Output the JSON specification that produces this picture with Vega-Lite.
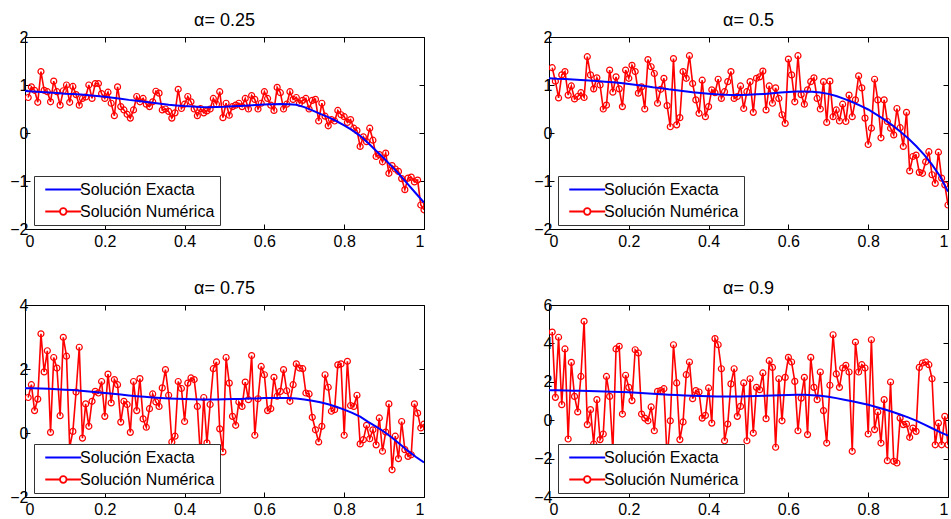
{
  "$schema": "https://vega.github.io/schema/vega-lite/v6.json",
  "background": "white",
  "padding": {"left": 9, "top": 11, "right": 0, "bottom": 0},
  "config": {
    "font": "Liberation Sans",
    "view": {"stroke": null},
    "axis": {"grid": false, "domainColor": "black", "domainWidth": 1, "tickColor": "black", "tickWidth": 1, "tickSize": -5, "labelColor": "black", "labelFont": "Liberation Sans", "labelFontSize": 16, "labelPadding": 9},
    "axisLeft": {"labelPadding": 2},
    "axisBottom": {"labelPadding": 9},
    "axisTop": {"labels": false},
    "axisRight": {"labels": false},
    "title": {"font": "Liberation Sans", "fontSize": 18, "fontWeight": "normal", "color": "black", "offset": -0.5, "anchor": "middle", "frame": "group"},
    "legend": {"orient": "none", "legendX": 9, "legendY": 139, "fillColor": "white", "strokeColor": "#333333", "padding": 5, "rowPadding": 5, "symbolSize": 225, "symbolStrokeWidth": 1.8, "labelFont": "Liberation Sans", "labelFontSize": 16, "labelColor": "black", "labelOffset": 24, "labelLimit": 400}
  },
  "datasets": {
    "num": [
      {"x":0.008,"a":0.74,"b":1.36,"c":1.11,"d":4.59},
      {"x":0.016,"a":0.96,"b":1.08,"c":1.51,"d":1.19},
      {"x":0.024,"a":0.89,"b":0.73,"c":0.70,"d":4.32},
      {"x":0.032,"a":0.64,"b":1.21,"c":1.06,"d":0.81},
      {"x":0.04,"a":1.28,"b":1.28,"c":3.10,"d":3.71},
      {"x":0.048,"a":0.89,"b":0.79,"c":1.91,"d":-0.98},
      {"x":0.056,"a":0.86,"b":0.98,"c":2.57,"d":3.01},
      {"x":0.064,"a":0.65,"b":0.71,"c":0.02,"d":1.24},
      {"x":0.072,"a":1.08,"b":0.76,"c":2.36,"d":0.43},
      {"x":0.08,"a":0.86,"b":0.84,"c":2.03,"d":2.28},
      {"x":0.088,"a":0.58,"b":0.74,"c":0.54,"d":5.15},
      {"x":0.096,"a":0.88,"b":1.59,"c":2.99,"d":-0.23},
      {"x":0.104,"a":1.0,"b":1.21,"c":2.40,"d":0.55},
      {"x":0.112,"a":0.64,"b":0.92,"c":-0.45,"d":-1.24},
      {"x":0.12,"a":0.97,"b":1.15,"c":0.05,"d":1.07},
      {"x":0.128,"a":0.80,"b":1.0,"c":1.28,"d":-1.01},
      {"x":0.136,"a":0.58,"b":0.50,"c":2.68,"d":-0.72},
      {"x":0.144,"a":0.72,"b":0.58,"c":-0.16,"d":2.28},
      {"x":0.152,"a":0.75,"b":1.31,"c":0.91,"d":1.24},
      {"x":0.16,"a":1.0,"b":0.85,"c":0.21,"d":-1.6},
      {"x":0.168,"a":0.72,"b":1.17,"c":0.99,"d":3.71},
      {"x":0.176,"a":1.03,"b":0.92,"c":1.30,"d":3.85},
      {"x":0.184,"a":1.03,"b":0.55,"c":1.25,"d":0.32},
      {"x":0.192,"a":0.82,"b":1.31,"c":1.61,"d":2.34},
      {"x":0.2,"a":0.72,"b":1.14,"c":0.52,"d":1.71},
      {"x":0.208,"a":0.85,"b":1.41,"c":1.84,"d":1.02},
      {"x":0.216,"a":0.62,"b":1.28,"c":0.94,"d":3.67},
      {"x":0.224,"a":0.36,"b":0.83,"c":1.67,"d":3.50},
      {"x":0.232,"a":0.96,"b":0.96,"c":1.51,"d":0.32},
      {"x":0.24,"a":0.55,"b":0.50,"c":0.34,"d":0.11},
      {"x":0.248,"a":0.48,"b":1.53,"c":0.99,"d":-0.03},
      {"x":0.256,"a":0.39,"b":1.38,"c":0.89,"d":0.69},
      {"x":0.264,"a":0.31,"b":1.24,"c":0.02,"d":-0.55},
      {"x":0.272,"a":0.48,"b":0.62,"c":1.61,"d":1.50},
      {"x":0.28,"a":0.76,"b":0.91,"c":0.70,"d":1.54},
      {"x":0.288,"a":0.65,"b":1.14,"c":1.70,"d":1.64},
      {"x":0.296,"a":0.72,"b":0.57,"c":0.44,"d":-2.0},
      {"x":0.304,"a":0.60,"b":0.13,"c":0.18,"d":-0.03},
      {"x":0.312,"a":0.55,"b":1.55,"c":0.76,"d":3.93},
      {"x":0.32,"a":0.65,"b":0.17,"c":1.22,"d":1.94},
      {"x":0.328,"a":0.87,"b":0.32,"c":0.97,"d":-1.01},
      {"x":0.336,"a":0.83,"b":1.28,"c":0.83,"d":-0.09},
      {"x":0.344,"a":0.48,"b":1.14,"c":1.41,"d":2.37},
      {"x":0.352,"a":0.50,"b":1.61,"c":1.98,"d":3.03},
      {"x":0.36,"a":0.45,"b":1.03,"c":1.18,"d":1.12},
      {"x":0.368,"a":0.31,"b":0.69,"c":-0.28,"d":1.54},
      {"x":0.376,"a":0.42,"b":0.41,"c":-0.10,"d":1.47},
      {"x":0.384,"a":0.91,"b":1.10,"c":1.61,"d":0.11},
      {"x":0.392,"a":0.51,"b":0.34,"c":1.39,"d":0.25},
      {"x":0.4,"a":0.60,"b":0.55,"c":0.36,"d":1.68},
      {"x":0.408,"a":0.76,"b":0.90,"c":1.56,"d":-0.15},
      {"x":0.416,"a":0.65,"b":0.84,"c":1.72,"d":4.25},
      {"x":0.424,"a":0.50,"b":1.12,"c":1.67,"d":3.93},
      {"x":0.432,"a":0.36,"b":0.72,"c":0.83,"d":2.68},
      {"x":0.44,"a":0.51,"b":0.86,"c":-0.80,"d":-1.07},
      {"x":0.448,"a":0.42,"b":1.07,"c":1.11,"d":-0.20},
      {"x":0.456,"a":0.46,"b":1.28,"c":-0.31,"d":1.89},
      {"x":0.464,"a":0.50,"b":0.72,"c":0.89,"d":2.68},
      {"x":0.472,"a":0.72,"b":0.76,"c":2.01,"d":0.20},
      {"x":0.48,"a":0.60,"b":0.98,"c":2.22,"d":0.72},
      {"x":0.488,"a":0.86,"b":0.51,"c":0.13,"d":1.94},
      {"x":0.496,"a":0.32,"b":0.86,"c":-0.59,"d":-1.07},
      {"x":0.504,"a":0.62,"b":1.07,"c":2.36,"d":2.16},
      {"x":0.512,"a":0.37,"b":0.43,"c":1.56,"d":-0.67},
      {"x":0.52,"a":0.55,"b":1.14,"c":0.52,"d":1.71},
      {"x":0.528,"a":0.58,"b":1.17,"c":0.24,"d":1.59},
      {"x":0.536,"a":0.62,"b":1.29,"c":0.97,"d":2.46},
      {"x":0.544,"a":0.55,"b":0.48,"c":0.83,"d":0.08},
      {"x":0.552,"a":0.72,"b":0.98,"c":1.59,"d":3.10},
      {"x":0.56,"a":0.50,"b":0.62,"c":1.04,"d":2.75},
      {"x":0.568,"a":0.78,"b":0.94,"c":2.42,"d":-1.41},
      {"x":0.576,"a":0.70,"b":0.72,"c":-0.07,"d":2.16},
      {"x":0.584,"a":0.50,"b":0.38,"c":1.07,"d":-0.03},
      {"x":0.592,"a":0.62,"b":0.20,"c":2.08,"d":2.23},
      {"x":0.6,"a":0.86,"b":1.54,"c":1.82,"d":3.27},
      {"x":0.608,"a":0.72,"b":1.21,"c":0.70,"d":3.03},
      {"x":0.616,"a":0.58,"b":0.65,"c":0.76,"d":2.02},
      {"x":0.624,"a":0.47,"b":1.61,"c":1.74,"d":-0.55},
      {"x":0.632,"a":0.95,"b":0.80,"c":1.15,"d":1.15},
      {"x":0.64,"a":0.84,"b":0.60,"c":1.30,"d":2.23},
      {"x":0.648,"a":0.50,"b":0.90,"c":1.98,"d":-0.75},
      {"x":0.656,"a":0.60,"b":1.07,"c":1.32,"d":3.27},
      {"x":0.664,"a":0.86,"b":1.15,"c":0.99,"d":1.71},
      {"x":0.672,"a":0.70,"b":0.72,"c":1.51,"d":1.07},
      {"x":0.68,"a":0.74,"b":0.50,"c":2.16,"d":2.51},
      {"x":0.688,"a":0.62,"b":1.07,"c":2.03,"d":0.50},
      {"x":0.696,"a":0.68,"b":0.22,"c":2.01,"d":-1.19},
      {"x":0.704,"a":0.72,"b":1.08,"c":1.25,"d":1.82},
      {"x":0.712,"a":0.50,"b":0.34,"c":1.22,"d":4.45},
      {"x":0.72,"a":0.68,"b":0.48,"c":0.49,"d":2.41},
      {"x":0.728,"a":0.70,"b":0.25,"c":0.10,"d":1.71},
      {"x":0.736,"a":0.25,"b":0.60,"c":-0.28,"d":2.72},
      {"x":0.744,"a":0.62,"b":0.24,"c":0.21,"d":2.86},
      {"x":0.752,"a":0.35,"b":0.79,"c":1.82,"d":2.51},
      {"x":0.76,"a":0.15,"b":0.34,"c":1.43,"d":-1.62},
      {"x":0.768,"a":0.28,"b":0.69,"c":0.68,"d":4.07},
      {"x":0.776,"a":0.25,"b":1.19,"c":0.73,"d":2.51},
      {"x":0.784,"a":0.47,"b":0.94,"c":2.13,"d":2.89},
      {"x":0.792,"a":0.38,"b":0.31,"c":2.16,"d":2.72},
      {"x":0.8,"a":0.34,"b":-0.24,"c":-0.07,"d":-0.72},
      {"x":0.808,"a":0.22,"b":0.10,"c":2.24,"d":4.19},
      {"x":0.816,"a":0.28,"b":1.12,"c":0.86,"d":-0.49},
      {"x":0.824,"a":0.10,"b":0.69,"c":0.83,"d":0.43},
      {"x":0.832,"a":0.05,"b":-0.10,"c":1.18,"d":-1.19},
      {"x":0.84,"a":-0.28,"b":0.69,"c":-0.34,"d":1.07},
      {"x":0.848,"a":-0.08,"b":0.24,"c":-0.21,"d":-2.11},
      {"x":0.856,"a":-0.18,"b":0.10,"c":0.24,"d":1.99},
      {"x":0.864,"a":0.10,"b":-0.04,"c":-0.18,"d":-2.14},
      {"x":0.872,"a":-0.15,"b":0.51,"c":0.10,"d":-2.23},
      {"x":0.88,"a":-0.49,"b":0.11,"c":-0.37,"d":0.11},
      {"x":0.888,"a":-0.45,"b":-0.28,"c":0.47,"d":-0.23},
      {"x":0.896,"a":-0.60,"b":0.43,"c":-0.57,"d":-0.20},
      {"x":0.904,"a":-0.42,"b":-0.79,"c":0.03,"d":-0.89},
      {"x":0.912,"a":-0.84,"b":-0.49,"c":0.91,"d":-0.41},
      {"x":0.92,"a":-0.68,"b":-0.46,"c":-1.15,"d":-0.58},
      {"x":0.928,"a":-0.75,"b":-0.82,"c":-0.10,"d":2.75},
      {"x":0.936,"a":-0.80,"b":-0.84,"c":-0.80,"d":2.98},
      {"x":0.944,"a":-0.95,"b":-0.60,"c":0.36,"d":3.03},
      {"x":0.952,"a":-1.18,"b":-0.39,"c":-0.52,"d":2.89},
      {"x":0.96,"a":-0.94,"b":-0.87,"c":-0.73,"d":2.16},
      {"x":0.968,"a":-0.92,"b":-1.05,"c":-0.68,"d":-1.28},
      {"x":0.976,"a":-1.02,"b":-0.40,"c":0.91,"d":-0.15},
      {"x":0.984,"a":-0.98,"b":-0.94,"c":0.62,"d":-1.28},
      {"x":0.992,"a":-1.50,"b":-1.08,"c":0.16,"d":0.20},
      {"x":1.0,"a":-1.60,"b":-1.50,"c":0.28,"d":-1.28}
    ],
    "exa": [
      {"x":0.0,"a":0.875,"b":1.14,"c":1.40,"d":1.56},
      {"x":0.02,"a":0.865,"b":1.13,"c":1.395,"d":1.555},
      {"x":0.04,"a":0.855,"b":1.125,"c":1.39,"d":1.55},
      {"x":0.06,"a":0.845,"b":1.115,"c":1.38,"d":1.54},
      {"x":0.08,"a":0.835,"b":1.105,"c":1.37,"d":1.53},
      {"x":0.10,"a":0.82,"b":1.095,"c":1.355,"d":1.52},
      {"x":0.12,"a":0.81,"b":1.085,"c":1.34,"d":1.51},
      {"x":0.14,"a":0.80,"b":1.07,"c":1.32,"d":1.495},
      {"x":0.16,"a":0.785,"b":1.055,"c":1.30,"d":1.48},
      {"x":0.18,"a":0.77,"b":1.04,"c":1.275,"d":1.465},
      {"x":0.20,"a":0.755,"b":1.02,"c":1.25,"d":1.45},
      {"x":0.22,"a":0.735,"b":1.0,"c":1.225,"d":1.425},
      {"x":0.24,"a":0.715,"b":0.98,"c":1.20,"d":1.40},
      {"x":0.26,"a":0.69,"b":0.955,"c":1.175,"d":1.375},
      {"x":0.28,"a":0.67,"b":0.935,"c":1.15,"d":1.35},
      {"x":0.30,"a":0.65,"b":0.91,"c":1.13,"d":1.33},
      {"x":0.32,"a":0.63,"b":0.89,"c":1.11,"d":1.31},
      {"x":0.34,"a":0.61,"b":0.87,"c":1.095,"d":1.29},
      {"x":0.36,"a":0.59,"b":0.85,"c":1.08,"d":1.27},
      {"x":0.38,"a":0.575,"b":0.835,"c":1.07,"d":1.255},
      {"x":0.40,"a":0.56,"b":0.82,"c":1.06,"d":1.245},
      {"x":0.42,"a":0.55,"b":0.805,"c":1.055,"d":1.235},
      {"x":0.44,"a":0.54,"b":0.795,"c":1.05,"d":1.23},
      {"x":0.46,"a":0.535,"b":0.79,"c":1.05,"d":1.23},
      {"x":0.48,"a":0.54,"b":0.79,"c":1.05,"d":1.235},
      {"x":0.50,"a":0.545,"b":0.795,"c":1.055,"d":1.245},
      {"x":0.52,"a":0.555,"b":0.805,"c":1.06,"d":1.255},
      {"x":0.54,"a":0.565,"b":0.815,"c":1.065,"d":1.27},
      {"x":0.56,"a":0.575,"b":0.83,"c":1.075,"d":1.285},
      {"x":0.58,"a":0.585,"b":0.845,"c":1.08,"d":1.30},
      {"x":0.60,"a":0.595,"b":0.855,"c":1.09,"d":1.315},
      {"x":0.62,"a":0.60,"b":0.865,"c":1.095,"d":1.325},
      {"x":0.64,"a":0.605,"b":0.865,"c":1.095,"d":1.32},
      {"x":0.66,"a":0.60,"b":0.86,"c":1.09,"d":1.30},
      {"x":0.68,"a":0.59,"b":0.845,"c":1.075,"d":1.27},
      {"x":0.70,"a":0.54,"b":0.815,"c":1.05,"d":1.22},
      {"x":0.72,"a":0.47,"b":0.77,"c":1.01,"d":1.15},
      {"x":0.74,"a":0.40,"b":0.71,"c":0.96,"d":1.07},
      {"x":0.76,"a":0.33,"b":0.645,"c":0.90,"d":0.99},
      {"x":0.78,"a":0.25,"b":0.57,"c":0.82,"d":0.90},
      {"x":0.80,"a":0.16,"b":0.49,"c":0.73,"d":0.80},
      {"x":0.82,"a":0.06,"b":0.39,"c":0.63,"d":0.69},
      {"x":0.84,"a":-0.06,"b":0.285,"c":0.51,"d":0.57},
      {"x":0.86,"a":-0.21,"b":0.165,"c":0.35,"d":0.44},
      {"x":0.88,"a":-0.37,"b":0.03,"c":0.20,"d":0.30},
      {"x":0.90,"a":-0.53,"b":-0.11,"c":0.04,"d":0.15},
      {"x":0.92,"a":-0.70,"b":-0.27,"c":-0.15,"d":-0.02},
      {"x":0.94,"a":-0.88,"b":-0.45,"c":-0.35,"d":-0.22},
      {"x":0.96,"a":-1.07,"b":-0.66,"c":-0.56,"d":-0.42},
      {"x":0.98,"a":-1.26,"b":-0.90,"c":-0.75,"d":-0.62},
      {"x":1.0,"a":-1.45,"b":-1.22,"c":-0.92,"d":-0.80}
    ]
  },
  "columns": 2,
  "spacing": {"row": 76, "column": 125},
  "bounds": "flush",
  "resolve": {"scale": {"color": "independent"}, "legend": {"color": "independent"}},
  "concat": [
    {
      "title": {"text": "α= 0.25"},
      "width": 399, "height": 192,
      "resolve": {"axis": {"x": "independent", "y": "independent"}},
      "layer": [
        {
          "data": {"name": "num"},
          "mark": {"type": "line", "strokeWidth": 1.6, "clip": true, "point": {"filled": false, "size": 36, "strokeWidth": 1.2}},
          "encoding": {
            "x": {"field": "x", "type": "quantitative", "title": null, "scale": {"domain": [0, 1], "nice": false}, "axis": {"orient": "bottom", "values": [0, 0.2, 0.4, 0.6, 0.8, 1], "format": "~g"}},
            "y": {"field": "a", "type": "quantitative", "title": null, "scale": {"domain": [-2, 2], "nice": false, "zero": false}, "axis": {"orient": "left", "values": [-2, -1, 0, 1, 2], "format": "d"}},
            "color": {"datum": "Solución Numérica", "type": "nominal", "scale": {"domain": ["Solución Exacta", "Solución Numérica"], "range": ["#0000ff", "#ff0000"]},
              "legend": {"title": null, "encode": {"symbols": {"update": {"shape": {"signal": "datum.value == 'Solución Exacta' ? 'M-0.3,0H4.5' : 'M-0.3,0H1.66M2.54,0H4.5M1.66,0A0.44,0.44 0 1,1 2.54,0A0.44,0.44 0 1,1 1.66,0'"}, "fill": {"value": "white"}}}}}}
          }
        },
        {
          "data": {"name": "exa"},
          "mark": {"type": "line", "strokeWidth": 2, "clip": true},
          "encoding": {
            "x": {"field": "x", "type": "quantitative", "title": null, "scale": {"domain": [0, 1], "nice": false}, "axis": {"orient": "top", "values": [0, 0.2, 0.4, 0.6, 0.8, 1]}},
            "y": {"field": "a", "type": "quantitative", "title": null, "scale": {"domain": [-2, 2], "nice": false, "zero": false}, "axis": {"orient": "right", "values": [-2, -1, 0, 1, 2]}},
            "color": {"datum": "Solución Exacta", "type": "nominal"}
          }
        }
      ]
    },
    {
      "title": {"text": "α= 0.5"},
      "width": 399, "height": 192,
      "resolve": {"axis": {"x": "independent", "y": "independent"}},
      "layer": [
        {
          "data": {"name": "num"},
          "mark": {"type": "line", "strokeWidth": 1.6, "clip": true, "point": {"filled": false, "size": 36, "strokeWidth": 1.2}},
          "encoding": {
            "x": {"field": "x", "type": "quantitative", "title": null, "scale": {"domain": [0, 1], "nice": false}, "axis": {"orient": "bottom", "values": [0, 0.2, 0.4, 0.6, 0.8, 1], "format": "~g"}},
            "y": {"field": "b", "type": "quantitative", "title": null, "scale": {"domain": [-2, 2], "nice": false, "zero": false}, "axis": {"orient": "left", "values": [-2, -1, 0, 1, 2], "format": "d"}},
            "color": {"datum": "Solución Numérica", "type": "nominal", "scale": {"domain": ["Solución Exacta", "Solución Numérica"], "range": ["#0000ff", "#ff0000"]},
              "legend": {"title": null, "encode": {"symbols": {"update": {"shape": {"signal": "datum.value == 'Solución Exacta' ? 'M-0.3,0H4.5' : 'M-0.3,0H1.66M2.54,0H4.5M1.66,0A0.44,0.44 0 1,1 2.54,0A0.44,0.44 0 1,1 1.66,0'"}, "fill": {"value": "white"}}}}}}
          }
        },
        {
          "data": {"name": "exa"},
          "mark": {"type": "line", "strokeWidth": 2, "clip": true},
          "encoding": {
            "x": {"field": "x", "type": "quantitative", "title": null, "scale": {"domain": [0, 1], "nice": false}, "axis": {"orient": "top", "values": [0, 0.2, 0.4, 0.6, 0.8, 1]}},
            "y": {"field": "b", "type": "quantitative", "title": null, "scale": {"domain": [-2, 2], "nice": false, "zero": false}, "axis": {"orient": "right", "values": [-2, -1, 0, 1, 2]}},
            "color": {"datum": "Solución Exacta", "type": "nominal"}
          }
        }
      ]
    },
    {
      "title": {"text": "α= 0.75"},
      "width": 399, "height": 192,
      "resolve": {"axis": {"x": "independent", "y": "independent"}},
      "layer": [
        {
          "data": {"name": "num"},
          "mark": {"type": "line", "strokeWidth": 1.6, "clip": true, "point": {"filled": false, "size": 36, "strokeWidth": 1.2}},
          "encoding": {
            "x": {"field": "x", "type": "quantitative", "title": null, "scale": {"domain": [0, 1], "nice": false}, "axis": {"orient": "bottom", "values": [0, 0.2, 0.4, 0.6, 0.8, 1], "format": "~g"}},
            "y": {"field": "c", "type": "quantitative", "title": null, "scale": {"domain": [-2, 4], "nice": false, "zero": false}, "axis": {"orient": "left", "values": [-2, 0, 2, 4], "format": "d"}},
            "color": {"datum": "Solución Numérica", "type": "nominal", "scale": {"domain": ["Solución Exacta", "Solución Numérica"], "range": ["#0000ff", "#ff0000"]},
              "legend": {"title": null, "encode": {"symbols": {"update": {"shape": {"signal": "datum.value == 'Solución Exacta' ? 'M-0.3,0H4.5' : 'M-0.3,0H1.66M2.54,0H4.5M1.66,0A0.44,0.44 0 1,1 2.54,0A0.44,0.44 0 1,1 1.66,0'"}, "fill": {"value": "white"}}}}}}
          }
        },
        {
          "data": {"name": "exa"},
          "mark": {"type": "line", "strokeWidth": 2, "clip": true},
          "encoding": {
            "x": {"field": "x", "type": "quantitative", "title": null, "scale": {"domain": [0, 1], "nice": false}, "axis": {"orient": "top", "values": [0, 0.2, 0.4, 0.6, 0.8, 1]}},
            "y": {"field": "c", "type": "quantitative", "title": null, "scale": {"domain": [-2, 4], "nice": false, "zero": false}, "axis": {"orient": "right", "values": [-2, 0, 2, 4]}},
            "color": {"datum": "Solución Exacta", "type": "nominal"}
          }
        }
      ]
    },
    {
      "title": {"text": "α= 0.9"},
      "width": 399, "height": 192,
      "resolve": {"axis": {"x": "independent", "y": "independent"}},
      "layer": [
        {
          "data": {"name": "num"},
          "mark": {"type": "line", "strokeWidth": 1.6, "clip": true, "point": {"filled": false, "size": 36, "strokeWidth": 1.2}},
          "encoding": {
            "x": {"field": "x", "type": "quantitative", "title": null, "scale": {"domain": [0, 1], "nice": false}, "axis": {"orient": "bottom", "values": [0, 0.2, 0.4, 0.6, 0.8, 1], "format": "~g"}},
            "y": {"field": "d", "type": "quantitative", "title": null, "scale": {"domain": [-4, 6], "nice": false, "zero": false}, "axis": {"orient": "left", "values": [-4, -2, 0, 2, 4, 6], "format": "d"}},
            "color": {"datum": "Solución Numérica", "type": "nominal", "scale": {"domain": ["Solución Exacta", "Solución Numérica"], "range": ["#0000ff", "#ff0000"]},
              "legend": {"title": null, "encode": {"symbols": {"update": {"shape": {"signal": "datum.value == 'Solución Exacta' ? 'M-0.3,0H4.5' : 'M-0.3,0H1.66M2.54,0H4.5M1.66,0A0.44,0.44 0 1,1 2.54,0A0.44,0.44 0 1,1 1.66,0'"}, "fill": {"value": "white"}}}}}}
          }
        },
        {
          "data": {"name": "exa"},
          "mark": {"type": "line", "strokeWidth": 2, "clip": true},
          "encoding": {
            "x": {"field": "x", "type": "quantitative", "title": null, "scale": {"domain": [0, 1], "nice": false}, "axis": {"orient": "top", "values": [0, 0.2, 0.4, 0.6, 0.8, 1]}},
            "y": {"field": "d", "type": "quantitative", "title": null, "scale": {"domain": [-4, 6], "nice": false, "zero": false}, "axis": {"orient": "right", "values": [-4, -2, 0, 2, 4, 6]}},
            "color": {"datum": "Solución Exacta", "type": "nominal"}
          }
        }
      ]
    }
  ]
}
